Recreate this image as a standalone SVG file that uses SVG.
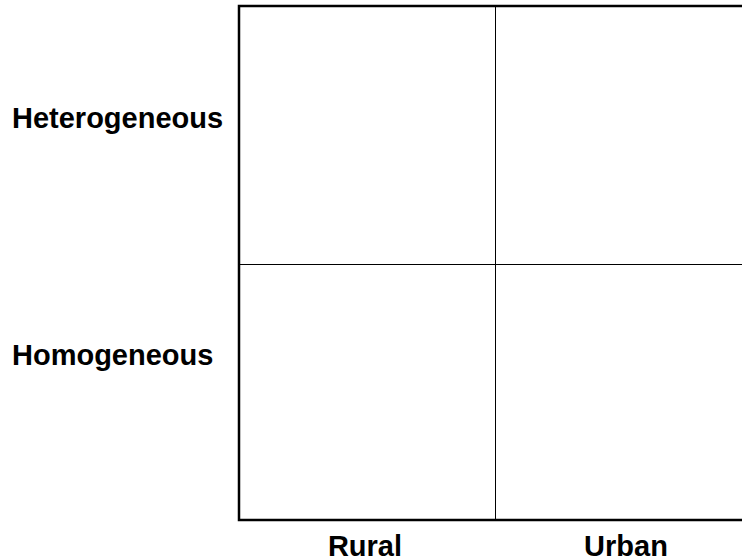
<svg xmlns="http://www.w3.org/2000/svg" width="742" height="560" viewBox="0 0 742 560">
<style>
.lbl{font-family:"Liberation Sans",Arial,sans-serif;font-weight:bold;font-size:29px;fill:#000}
.thick{stroke:#000;stroke-width:2.5;fill:none}
.thin{stroke:#000;stroke-width:1;fill:none}
</style>
<rect width="742" height="560" fill="#fff"/>
<g id="connectors">
<path class="thick" d="M742,6 H239 V520 H742"/>
<line class="thin" x1="495.5" y1="6" x2="495.5" y2="520"/>
<line class="thin" x1="239" y1="264.5" x2="742" y2="264.5"/>
</g>
<g id="label-heterogeneous"><text class="lbl" x="12" y="128">Heterogeneous</text></g>
<g id="label-homogeneous"><text class="lbl" x="12" y="365">Homogeneous</text></g>
<g id="label-rural"><text class="lbl" x="365" y="556" text-anchor="middle">Rural</text></g>
<g id="label-urban"><text class="lbl" x="626" y="556" text-anchor="middle">Urban</text></g>
</svg>
